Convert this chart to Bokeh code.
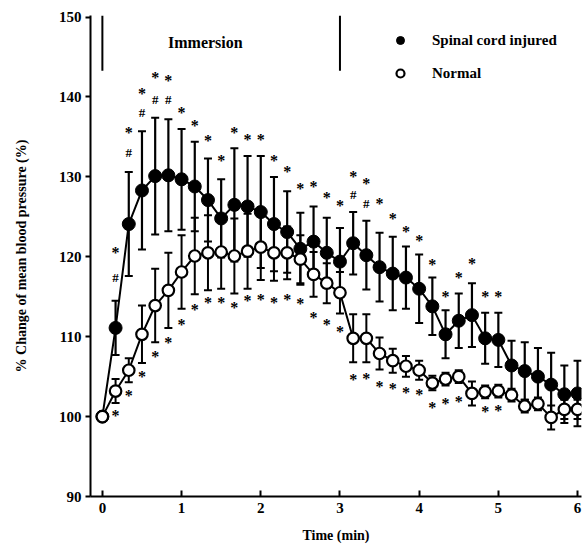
from bokeh.plotting import figure
from bokeh.models import Range1d, Legend, LegendItem, FixedTicker, ColumnDataSource
from bokeh.core.properties import value
from bokeh.embed import file_html
from bokeh.resources import INLINE

# ---- data ----
time_s = [0, 10, 20, 30, 40, 50, 60, 70, 80, 90, 100, 110, 120, 130, 140, 150, 160, 170,
          180, 190, 200, 210, 220, 230, 240, 250, 260, 270, 280, 290, 300, 310, 320, 330,
          340, 350, 360]
spinal = [100.0, 111.1, 124.1, 128.3, 130.1, 130.2, 129.7, 128.8, 127.1, 124.8, 126.5, 126.3,
          125.6, 124.1, 123.1, 121.0, 121.9, 120.5, 119.4, 121.7, 120.2, 118.7, 117.9, 117.4,
          116.0, 113.8, 110.3, 112.0, 112.7, 109.8, 109.6, 106.4, 105.7, 105.0, 104.0, 102.8, 102.9]
spinal_se = [0, 3.4, 6.5, 7.4, 7.3, 7.0, 6.3, 5.6, 5.2, 4.9, 7.1, 6.3, 7.0, 5.9, 5.1, 4.5, 4.4,
             4.4, 4.2, 3.9, 4.3, 4.3, 4.6, 3.9, 4.3, 3.6, 3.0, 3.4, 4.0, 3.2, 3.4, 3.1, 3.6, 3.6,
             4.0, 3.6, 4.1]
normal = [100.0, 103.2, 105.8, 110.3, 113.9, 115.8, 118.1, 120.1, 120.5, 120.6, 120.1, 120.7,
          121.2, 120.5, 120.5, 119.7, 117.8, 116.7, 115.5, 109.8, 109.8, 107.9, 107.0, 106.3,
          105.8, 104.2, 104.7, 105.0, 102.9, 103.1, 103.2, 102.7, 101.3, 101.6, 99.9, 100.9, 100.9]
normal_se = [0, 1.5, 1.5, 3.6, 4.6, 4.7, 4.6, 4.8, 4.7, 4.6, 4.7, 4.7, 4.1, 3.5, 3.3, 3.0, 2.8,
             2.5, 2.6, 3.0, 3.0, 2.0, 1.5, 1.3, 1.2, 0.9, 0.8, 0.8, 1.5, 0.8, 0.8, 0.8, 0.8, 0.8,
             1.5, 1.2, 1.2]

# significance marks (time in s, level in %)
star_up_t = [10, 20, 30, 40, 50, 60, 70, 80, 90, 100, 110, 120, 130, 140, 150, 160, 170, 180,
             190, 200, 210, 220, 230, 240, 250, 260, 270, 280, 290, 300]
star_up_y = [121.0, 136.1, 141.0, 142.9, 142.6, 138.5, 136.9, 135.0, 132.5, 136.1, 135.2, 135.2,
             132.6, 131.2, 129.0, 129.3, 127.9, 126.9, 130.6, 129.7, 127.2, 125.3, 123.7, 122.6,
             119.5, 115.5, 117.9, 119.7, 115.5, 115.5]
hash_t = [10, 20, 30, 40, 50, 190, 200]
hash_y = [117.4, 133.1, 138.0, 139.7, 139.7, 127.8, 126.7]
star_lo_t = [10, 20, 30, 40, 50, 60, 70, 80, 90, 100, 110, 120, 130, 140, 150, 160, 170, 180,
             190, 200, 210, 220, 230, 240, 250, 260, 270, 290, 300]
star_lo_y = [100.6, 103.1, 105.5, 108.0, 109.8, 112.0, 113.9, 114.8, 114.8, 114.1, 115.0, 115.2,
             114.8, 115.2, 114.6, 112.9, 112.0, 111.1, 105.1, 105.3, 104.3, 104.0, 103.5, 103.3,
             101.6, 102.2, 102.4, 101.1, 101.3]

immersion_min = [0, 3]
immersion_bar = [143.3, 150.2]
x_ticks = [0, 1, 2, 3, 4, 5, 6]
y_ticks = [90, 100, 110, 120, 130, 140, 150]

# ---- derived ----
t_min = [s / 60 for s in time_s]
src_s = ColumnDataSource(dict(t=t_min, y=spinal,
                              lo=[v - e for v, e in zip(spinal, spinal_se)],
                              hi=[v + e for v, e in zip(spinal, spinal_se)]))
src_n = ColumnDataSource(dict(t=t_min, y=normal,
                              lo=[v - e for v, e in zip(normal, normal_se)],
                              hi=[v + e for v, e in zip(normal, normal_se)]))

SERIF = value("Liberation Serif")

p = figure(width=585, height=548, output_backend="svg", toolbar_location=None,
           x_range=Range1d(-0.15, 6.05), y_range=Range1d(90, 150.2),
           min_border_left=90, min_border_right=4, min_border_top=15, min_border_bottom=52)
p.outline_line_color = None
p.xgrid.visible = False
p.ygrid.visible = False
p.background_fill_color = "white"
p.border_fill_color = "white"

# axes
p.xaxis.ticker = FixedTicker(ticks=x_ticks)
p.yaxis.ticker = FixedTicker(ticks=y_ticks)
for ax in (p.xaxis[0], p.yaxis[0]):
    ax.axis_line_width = 2
    ax.axis_line_color = "black"
    ax.major_tick_line_width = 2
    ax.major_tick_line_color = "black"
    ax.minor_tick_line_color = None
    ax.major_label_text_font = "Liberation Serif"
    ax.major_label_text_font_style = "bold"
    ax.major_label_text_font_size = "15px"
    ax.major_label_text_color = "black"
    ax.axis_label_text_font = "Liberation Serif"
    ax.axis_label_text_font_style = "bold"
    ax.axis_label_text_font_size = "14px"
    ax.axis_label_text_color = "black"
p.xaxis.major_tick_in = 6
p.xaxis.major_tick_out = 0
p.yaxis.major_tick_in = 0
p.yaxis.major_tick_out = 5
p.xaxis.major_label_standoff = 6
p.yaxis.major_label_standoff = 4
p.xaxis.axis_label = "Time (min)"
p.yaxis.axis_label = "% Change of mean blood pressure (%)"
p.xaxis.axis_label_standoff = 12
p.yaxis.axis_label_standoff = 27

# immersion markers
p.segment(x0=immersion_min, y0=[immersion_bar[0]] * 2, x1=immersion_min,
          y1=[immersion_bar[1]] * 2, line_color="black", line_width=2)
p.text(x=[sum(immersion_min) / 2 - 0.2], y=[146.8], text=["Immersion"], text_font=SERIF,
       text_font_size="16px", text_font_style="bold", text_align="center",
       text_baseline="middle", text_color="black")

# error bars
for src, lw in ((src_s, 2.2), (src_n, 2.0)):
    p.segment(x0="t", y0="lo", x1="t", y1="hi", source=src, line_color="black", line_width=lw)
    p.scatter(x="t", y="hi", source=src, marker="dash", size=8, line_color="black", line_width=2)
    p.scatter(x="t", y="lo", source=src, marker="dash", size=8, line_color="black", line_width=2)

# lines
p.line(x="t", y="y", source=src_s, line_color="black", line_width=2)
p.line(x="t", y="y", source=src_n, line_color="black", line_width=2)

r_s = p.scatter(x="t", y="y", source=src_s, marker="circle", size=13,
                fill_color="black", line_color="black")
r_n = p.scatter(x="t", y="y", source=src_n, marker="circle", size=11.5,
                fill_color="white", line_color="black", line_width=2.2)

# significance marks
p.text(x=[s / 60 for s in star_up_t], y=star_up_y, text=["*"] * len(star_up_t), text_font=SERIF,
       text_font_size="16px", text_font_style="bold", text_align="center",
       text_baseline="middle", y_offset=4, text_color="black")
p.text(x=[s / 60 for s in star_lo_t], y=star_lo_y, text=["*"] * len(star_lo_t), text_font=SERIF,
       text_font_size="16px", text_font_style="bold", text_align="center",
       text_baseline="middle", y_offset=4, text_color="black")
p.text(x=[s / 60 for s in hash_t], y=hash_y, text=["#"] * len(hash_t), text_font=SERIF,
       text_font_size="13px", text_font_style="bold", text_align="center",
       text_baseline="middle", text_color="black")

legend = Legend(items=[LegendItem(label="Spinal cord injured", renderers=[r_s]),
                       LegendItem(label="Normal", renderers=[r_n])],
                location=(300, 413), orientation="vertical")
legend.border_line_color = None
legend.background_fill_alpha = 0
legend.padding = 0
legend.margin = 0
legend.spacing = 13
legend.glyph_width = 20
legend.glyph_height = 20
legend.label_height = 20
legend.label_standoff = 22
legend.label_text_font = "Liberation Serif"
legend.label_text_font_style = "bold"
legend.label_text_font_size = "15px"
legend.label_text_color = "black"
p.add_layout(legend)

open("out.html", "w").write(file_html(p, INLINE))
